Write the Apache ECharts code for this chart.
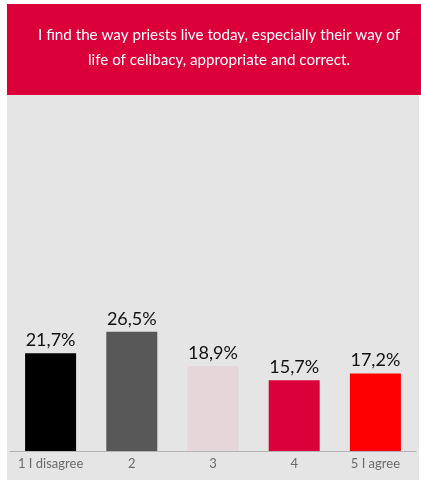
<!DOCTYPE html>
<html>
<head>
<meta charset="utf-8">
<style>
  html, body { margin: 0; padding: 0; background: #ffffff; }
  #chart { width: 421px; height: 486px; }
</style>
<script src="https://cdn.jsdelivr.net/npm/echarts@6/dist/echarts.min.js"></script>
</head>
<body>
<div id="chart"></div>
<script>
// Survey answers on a 1–5 agreement scale
const categories = ['1 I disagree', '2', '3', '4', '5 I agree'];
const shares = [21.7, 26.5, 18.9, 15.7, 17.2];
const barColors = ['#000000', '#585858', '#e6d6d9', '#dc003a', '#ff0000'];
const questionText = 'I find the way priests live today, especially their way of\nlife of celibacy, appropriate and correct.';

const chart = echarts.init(document.getElementById('chart'));

chart.setOption({
  animation: false,
  backgroundColor: '#ffffff',
  graphic: [
    { type: 'rect', z: -10, shape: { x: 7, y: 94, width: 412, height: 386 }, style: { fill: '#e5e5e5' } },
    { type: 'rect', z: -9, shape: { x: 7, y: 4, width: 414, height: 91 }, style: { fill: '#dc003a' } }
  ],
  title: {
    text: questionText,
    left: 214,
    textAlign: 'center',
    top: 18,
    textStyle: {
      color: '#ffffff',
      fontFamily: 'Lato',
      fontSize: 15.2,
      fontWeight: 'normal',
      lineHeight: 25
    }
  },
  grid: { left: 10, right: 5, top: 226, bottom: 35, containLabel: false },
  xAxis: {
    type: 'category',
    data: categories,
    axisLine: { show: true, lineStyle: { color: '#b4b4b4', width: 1 } },
    axisTick: { show: false },
    axisLabel: {
      color: '#6a6a6a',
      fontFamily: 'Lato',
      fontSize: 13,
      margin: 6,
      interval: 0
    }
  },
  yAxis: {
    type: 'value',
    min: 0,
    max: 50,
    show: false,
    splitLine: { show: false }
  },
  series: [{
    type: 'bar',
    barWidth: 51,
    data: shares.map((v, i) => ({ value: v, itemStyle: { color: barColors[i] } })),
    label: {
      show: true,
      position: 'top',
      distance: 4,
      color: '#111111',
      fontFamily: 'Lato',
      fontSize: 18,
      formatter: p => p.value.toFixed(1).replace('.', ',') + '%'
    }
  }]
});
</script>
</body>
</html>
